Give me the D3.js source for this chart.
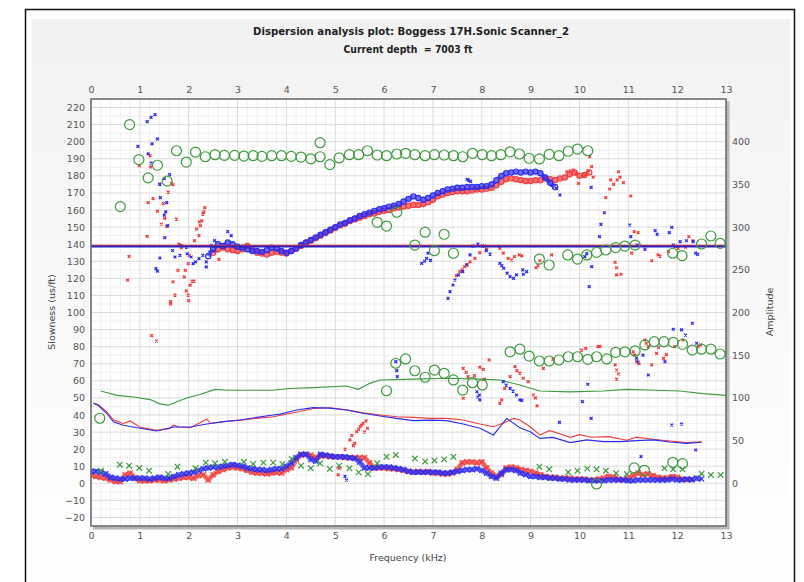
<!DOCTYPE html>
<html>
<head>
<meta charset="utf-8">
<script src="https://cdn.jsdelivr.net/npm/d3@7"></script>
<style>
  html, body { margin: 0; padding: 0; background: #ffffff; }
  svg { display: block; }
  text { font-family: "DejaVu Sans", Verdana, sans-serif; white-space: pre; }
</style>
</head>
<body>
<svg id="chart" width="804" height="582"></svg>
<script>
// ---- Axis ticks ----
const freqTicks = d3.range(0, 14);                  // 0 .. 13 kHz
const slownessTicks = d3.range(-20, 221, 10);       // -20 .. 220 us/ft
const amplitudeTicks = d3.range(0, 401, 50);        // 0 .. 400

// ---- Dispersion: dense dipole bands (freq kHz, slowness us/ft) ----
const blueBand = [[2.4,133],[2.5,137],[2.6,140],[2.7,139],[2.8,141],[2.9,140],[3.0,138.5],[3.1,138],[3.2,137],[3.3,136],[3.4,136],[3.5,135.5],[3.6,136.5],[3.7,138],[3.8,137.5],[3.9,136],[4.0,135],[4.1,136],[4.2,137.5],[4.3,139.5],[4.4,141],[4.5,142.5],[4.6,144],[4.7,145.5],[4.8,147],[4.9,148.5],[5.0,150],[5.1,151.5],[5.2,152.5],[5.3,154],[5.4,155],[5.5,156.5],[5.6,157.5],[5.7,158.5],[5.8,159.5],[5.9,160.5],[6.0,161],[6.1,162],[6.2,162.5],[6.3,163.5],[6.4,165],[6.5,166.5],[6.6,168],[6.7,167],[6.8,166],[6.9,167],[7.0,168.5],[7.1,170],[7.2,171],[7.3,172],[7.4,172.5],[7.5,173],[7.6,173],[7.7,173.5],[7.8,173.5],[7.9,173.5],[8.0,174],[8.1,174],[8.2,175],[8.3,177.5],[8.4,180],[8.5,181.5],[8.6,182],[8.7,182.5],[8.8,182],[8.9,182.5],[9.0,182],[9.1,182.5],[9.2,181.5],[9.3,179],[9.4,176],[9.5,173.5]];
const redBand = [[2.5,135],[2.6,137],[2.7,138],[2.8,137],[2.9,136.5],[3.0,136],[3.1,137],[3.2,139],[3.3,137],[3.4,135],[3.5,134.5],[3.6,134],[3.7,135],[3.8,135.5],[3.9,135],[4.0,134.5],[4.1,136],[4.2,137.5],[4.3,139],[4.4,140.5],[4.5,142],[4.6,143.5],[4.7,145],[4.8,146.5],[4.9,148],[5.0,149.5],[5.1,151],[5.2,152],[5.3,153.5],[5.4,154.5],[5.5,155.5],[5.6,156.5],[5.7,157.5],[5.8,158],[5.9,159],[6.0,159.5],[6.1,160],[6.2,161],[6.3,161.5],[6.4,162],[6.5,162.5],[6.6,163],[6.7,163],[6.8,163.5],[6.9,164.5],[7.0,166],[7.1,168],[7.2,169],[7.3,170],[7.4,170.5],[7.5,171],[7.6,171],[7.7,171],[7.8,171.5],[7.9,172],[8.0,172],[8.1,172.5],[8.2,173],[8.3,174.5],[8.4,176.5],[8.5,178],[8.6,178.5],[8.7,178],[8.8,177.5],[8.9,177],[9.0,177],[9.1,177.5],[9.2,177.5],[9.3,178.5],[9.4,178],[9.5,177.5],[9.6,178.5],[9.7,179],[9.8,181],[9.9,182],[10.0,180],[10.1,180.5],[10.2,182]];

// ---- Dispersion: scattered dipole picks ----
const redScatter = [[1.21,191.8],[0.99,186],[1.22,185.2],[1.40,175.2],[1.65,175.4],[1.68,174.8],[1.58,170.5],[1.27,166.7],[1.17,164.3],[1.48,163.8],[1.36,159.3],[1.51,155.1],[1.75,154.7],[1.44,151.8],[1.55,150.4],[1.15,144.6],[0.78,132.8],[0.75,118.9],[1.68,118],[1.78,124.7],[1.72,110.2],[1.63,106.4],[1.91,120.9],[1.93,124.7],[1.99,128.6],[1.95,112.6],[2.03,116],[2.07,118.4],[2.11,118.4],[1.99,110.2],[2.01,133.4],[2.12,142.1],[2.21,145],[2.24,150.8],[2.27,153.7],[2.29,157.6],[2.31,158.9],[2.33,161.4],[2.16,148.9],[2.22,153.1],[2.62,131.1],[1.24,86.4],[1.34,83.3],[1.63,105],[2.0,107],[1.80,140],[1.85,138],
  [10.21,191.2],[10.25,185.4],[10.28,179.2],[10.18,183],[10.11,180.5],[9.98,175.6],[9.29,179.2],[9.74,182.4],[9.81,183],[9.87,183.4],[9.94,181.5],[10.54,167.2],[10.62,172.3],[10.64,177.6],[10.77,177.6],[10.8,182.4],[10.83,179.2],[10.9,176],[11.05,168.2],[10.70,175],
  [7.48,121.6],[7.55,123.9],[7.60,125],[7.65,126.8],[7.70,128],[7.76,129.7],[7.86,131.7],[7.96,135],[8.06,138.9],[8.10,137],[8.37,137.6],[8.44,134.7],[8.54,131.7],[8.61,130.7],[8.67,132.7],[8.77,133.7],[8.82,133.1],[9.11,126.2],[9.15,127.5],[9.19,130.3],[9.43,133.7],
  [10.73,129.4],[10.76,126.2],[10.76,122],[10.85,122.4],[11.07,134.7],[11.12,147.3],[11.2,146.8],[11.48,130.3],[11.61,133.7],[11.65,133],[11.82,135.6],[12.02,137.6],[12.17,138.2],[12.24,144.4],[12.32,142],
  [7.62,67.3],[7.68,65],[7.72,62.4],[7.62,49.8],[7.85,63],[7.96,68],[8.03,66.7],[8.05,61],[8.15,72.2],[8.41,48.8],[8.37,46.8],[8.47,55.6],[8.58,62.4],[8.68,68.3],[8.72,66],[8.78,64.5],[8.85,61.5],[8.95,59.5],[9.06,51.7],[9.1,50],[9.13,45.3],[9.26,67.3],[9.46,72.6],[10.04,78],[10.13,79],[10.38,80],[10.42,80.2],[10.73,69.3],[10.76,66.3],[10.8,64],[10.76,61],[11.1,77],[11.13,75],[11.17,71.2],[11.22,70],[11.34,83.9],[11.37,82],[11.41,80],[11.48,69.3],[11.58,76.1],[11.62,79.5],[11.72,73.2],[11.78,75.3],[11.95,80],[12.12,83.9],[12.43,80],[12.48,81],
  [5.3,25.4],[5.34,28],[5.4,23.4],[5.44,30.2],[5.48,31.5],[5.51,33.1],[5.54,34],[5.57,35.1],[5.63,36.5],[5.66,32.2],[5.6,30],[5.37,22],[5.06,4.9],[5.08,8.8],[5.2,20]];
const blueScatter = [[1.31,215.9],[1.23,214.2],[1.15,211.7],[1.36,201.6],[0.96,197.2],[1.25,198.7],[1.17,192.9],[1.23,187.5],[1.61,180.8],[1.50,178.3],[1.41,175],[1.42,167.2],[1.55,164.3],[1.50,157],[1.53,158.9],[1.57,150.8],[1.51,143.9],[1.41,131.9],[1.33,125.7],[1.36,124.2],[1.67,136.3],[1.72,132.5],[1.82,133.4],[1.85,139.2],[1.95,138.3],[1.97,134.4],[2.05,132.5],[2.09,128.6],[2.14,129.6],[2.21,131.5],[2.29,133.4],[2.36,129.6],[2.36,126.7],[2.43,135.4],[2.46,139.2],[2.53,142.1],[2.80,147.3],[2.87,145],[7.7,178],[7.73,177.5],[7.77,176.8],
  [6.77,128.8],[6.87,131.7],[6.90,134.7],[6.83,130],[6.95,130.5],[7.31,108.3],[7.35,112.2],[7.41,116.1],[7.45,119],[7.52,122],[7.61,123.9],[7.69,127.8],[7.76,133.7],[7.82,138.9],[7.92,140.1],[8.01,139],[8.09,136.2],[8.17,134.2],[8.37,128.8],[8.41,127.5],[8.45,125.9],[8.52,123],[8.58,121],[8.65,120],[8.71,122],[8.84,124.9],[8.85,122.4],[8.92,123.9],
  [9.29,178.6],[9.36,176.6],[9.43,174.6],[9.53,172.7],[9.6,168.8],[10.24,173.3],[10.51,158.4],[10.44,151.6],[10.41,144.4],[10.25,126.8],[10.2,115.1],[10.11,132.7],[10.15,134.5],
  [11.03,151.2],[11.05,144.4],[11.18,139.5],[11.34,137],[11.55,147.9],[11.59,145.8],[11.84,146.8],[11.89,149.9],[11.92,139.5],[12.06,141.5],[12.19,142],[12.33,141.5],[12.38,134.7],[12.42,134],[11.97,138.8],
  [6.24,71.2],[6.27,62.4],[6.26,66],[7.9,53.6],[7.95,51.7],[7.96,48.8],[7.92,50.5],[8.44,59.5],[8.5,57.5],[8.58,55.6],[8.64,54],[8.71,51.7],[8.78,48.8],[8.82,48.5],[9.59,35.7],[10.06,47.8],[10.17,58],[10.24,38],[11.17,73.2],[11.2,71],[11.41,63.4],[11.30,75],[11.75,71.2],[11.89,34.1],[12.09,34.7],[12.09,89.8],[12.17,86.8],[12.31,93.7],[12.40,82],[11.92,90.2],[12.38,19.5],[11.26,15.6],[5.23,1.9],[5.2,4]];

// ---- Model mode picks (open circles) ----
const greenModes = [[0.60,162],[0.79,210],[0.98,189.5],[1.17,178.8],[1.36,186.2],[1.56,176.9],[1.75,194.7],[1.95,188.1],[2.14,193.9],[2.34,191.2],[2.54,192.4],[2.73,192],[2.94,192],[3.13,191.6],[3.32,191.8],[3.50,191.4],[3.70,191.8],[3.90,191.8],[4.10,191.4],[4.30,191],[4.50,190],[4.69,191.2],[4.69,199.4],[4.89,186.6],[5.08,190.5],[5.29,192.4],[5.48,192.4],[5.66,194.7],[5.86,192.2],[6.05,191.8],[6.26,192.8],[6.44,193.2],[6.63,192.4],[6.84,191.8],[7.03,192.4],[7.23,192.2],[7.42,191.8],[7.61,191.2],[7.81,193.2],[8.01,192.4],[8.20,191.8],[8.39,192.4],[8.58,194.1],[8.77,192.8],[8.97,190.3],[9.18,189.9],[9.38,192.6],[9.58,191.8],[9.77,194.4],[9.96,195.7],[10.17,194.7],
  [5.86,152.8],[6.05,150.6],[6.26,158.7],[6.63,139.5],[6.84,147],[7.03,136.2],[7.23,145.8],[7.42,134.7],[9.18,131.3],[9.38,127.8],[9.76,133.7],[9.96,131.3],[10.15,133.7],[10.35,135.2],[10.54,136.6],[10.74,138],[10.93,138.9],[11.14,139.5],[11.91,134.7],[12.10,133.3],[12.50,140.1],[12.69,144.8],[12.88,140.5],
  [6.05,54.2],[6.24,70.3],[6.44,72.8],[6.63,65.9],[6.84,62.1],[7.03,66.3],[7.23,64.4],[7.42,60.5],[7.61,54.6],[7.81,58.9],[8.01,57.6],[8.58,77],[8.78,78.5],[8.97,74.5],[9.18,71.6],[9.38,71.6],[9.58,72.2],[9.77,74.1],[9.96,74.1],[10.17,72.6],[10.35,74.1],[10.56,72.8],[10.74,76.7],[10.93,77],[11.14,77.5],[11.34,81],[11.53,82.9],[11.73,82.9],[11.92,82.5],[12.11,81.4],[12.31,78],[12.50,78.5],[12.69,78.5],[12.88,75.7],
  [0.18,38.1],[10.35,-0.4],[11.12,9],[11.33,7.6],[11.91,12.3],[12.11,11.5]];

// ---- Low-slowness picks (crosses) ----
const greenCross = [[0.20,7.4],[0.59,10.9],[0.78,10.3],[0.99,9],[1.19,7.4],[1.58,5.4],[1.77,9.7],[2.14,8.8],[2.35,12.1],[2.54,11.7],[2.74,12.6],[3.13,12.6],[3.32,11.3],[3.53,12.1],[3.73,12.1],[3.92,11.3],[4.11,14.1],[4.30,10.3],[4.50,8.8],[4.69,11.7],[4.89,8.4],[5.08,10.3],[5.29,8.8],[5.48,6.4],[5.67,5.4],[5.86,11.7],[6.05,15.6],[6.24,16.6],[6.63,14.5],[6.84,12.8],[7.03,13.4],[7.23,14],[7.42,15.6],[9.18,9.7],[9.38,8.2],[9.77,6.5],[9.96,7.4],[10.16,8.6],[10.35,8.2],[10.54,7.4],[10.75,5.9],[10.97,5.4],[11.74,8.8],[11.92,8.2],[12.11,8.2],[12.50,5.6],[12.69,4.9],[12.89,4.9]];
const blueLow = [[0.0,7],[0.1,7],[0.2,6.5],[0.3,5.5],[0.4,3.5],[0.5,3],[0.6,2.5],[0.7,2.5],[0.8,3],[0.9,3],[1.0,3],[1.1,3],[1.2,2.5],[1.3,3],[1.4,3.5],[1.5,3],[1.6,3],[1.7,4],[1.8,5],[1.9,5.5],[2.0,6],[2.1,6.5],[2.2,7.5],[2.3,8.5],[2.4,9],[2.5,9.5],[2.6,9.5],[2.7,10],[2.8,10.5],[2.9,11],[3.0,10.5],[3.1,10],[3.2,9],[3.3,8.5],[3.4,8],[3.5,8],[3.6,7.5],[3.7,8],[3.8,8.5],[3.9,8.5],[4.0,10],[4.1,12],[4.2,15],[4.3,17],[4.4,17],[4.5,14],[4.6,13],[4.7,17],[4.8,16.5],[4.9,16],[5.0,15.5],[5.1,15.5],[5.2,15.5],[5.3,15],[5.4,14.5],[5.5,12.5],[5.6,9],[5.7,9],[5.8,9],[5.9,9.5],[6.0,9.5],[6.1,9.5],[6.2,9],[6.3,8.5],[6.4,8],[6.5,7],[6.6,6.5],[6.7,6.5],[6.8,6.5],[6.9,6.5],[7.0,6.5],[7.1,6.5],[7.2,6],[7.3,6],[7.4,6.5],[7.5,7],[7.6,7.5],[7.7,8],[7.8,8],[7.9,8.5],[8.0,7.5],[8.1,6],[8.2,4],[8.3,3],[8.4,6],[8.5,8],[8.6,8],[8.7,7.5],[8.8,6],[8.9,5],[9.0,4],[9.1,4],[9.2,3.5],[9.3,3.5],[9.4,3],[9.5,3],[9.6,2.5],[9.7,2.5],[9.8,2],[9.9,2],[10.0,2],[10.1,2],[10.2,1.5],[10.3,1.5],[10.4,1.5],[10.5,1.5],[10.6,2],[10.7,2],[10.8,2],[10.9,2],[11.0,1.5],[11.1,1.5],[11.2,2],[11.3,2],[11.4,2],[11.5,2],[11.6,2],[11.7,2],[11.8,2],[11.9,2.5],[12.0,2],[12.1,2],[12.2,2.5],[12.3,2],[12.4,3],[12.5,2.5]];
const redLow = [[0.0,5],[0.1,4],[0.2,3.5],[0.3,3],[0.4,2],[0.5,1],[0.6,1],[0.7,5],[0.8,6],[0.9,3],[1.0,1.5],[1.1,1.5],[1.2,1.5],[1.3,2],[1.4,2],[1.5,1.5],[1.6,2],[1.7,2.5],[1.8,3],[1.9,3.5],[2.0,3.5],[2.1,3],[2.2,4.5],[2.3,5],[2.4,2],[2.5,5],[2.6,7],[2.7,8],[2.8,9],[2.9,9.5],[3.0,9],[3.1,8.5],[3.2,7.5],[3.3,6.5],[3.4,6],[3.5,6],[3.6,5.5],[3.7,6],[3.8,6.5],[3.9,6],[4.0,8],[4.1,9],[4.2,14],[4.3,16.5],[4.4,17],[4.5,16.5],[4.6,15],[4.7,16],[4.8,16],[4.9,15.5],[5.0,15.5],[5.1,15.5],[5.2,15],[5.3,15],[5.4,15],[5.5,15],[5.6,15],[5.7,12],[5.8,9],[5.9,9],[6.0,9],[6.1,8.5],[6.2,8.5],[6.3,8],[6.4,7.5],[6.5,7],[6.6,6.5],[6.7,7],[6.8,6.5],[6.9,7],[7.0,6],[7.1,6],[7.2,5.5],[7.3,5.5],[7.4,6],[7.5,8],[7.6,12],[7.7,12.5],[7.8,12.5],[7.9,12],[8.0,12.5],[8.1,9],[8.2,6],[8.3,4],[8.4,5],[8.5,9],[8.6,9.5],[8.7,9],[8.8,8],[8.9,7.5],[9.0,7],[9.1,6],[9.2,5],[9.3,4],[9.4,3.5],[9.5,3.5],[9.6,3],[9.7,3],[9.8,3],[9.9,2.5],[10.0,2.5],[10.1,2.5],[10.2,2],[10.3,2],[10.4,2.5],[10.5,3],[10.6,4],[10.7,3.5],[10.8,2.5],[10.9,2],[11.0,3],[11.1,4.5],[11.2,6],[11.3,5],[11.4,5.5],[11.5,4.5],[11.6,3.5],[11.7,3],[11.8,3],[11.9,4],[12.0,3.5],[12.1,2.5],[12.2,2],[12.3,2.5]];

// ---- Reference slowness lines ----
const redFlat = 139.3;
const blueFlat = 138.6;

// ---- Spectral amplitude curves (freq kHz, amplitude) ----
const greenAmp = [[0.20,108],[0.53,103],[0.87,101],[1.21,98],[1.41,93],[1.58,91.5],[1.82,97],[2.03,101],[2.23,104],[2.54,110],[2.78,109],[3.39,109],[3.73,109],[4.07,111],[4.55,112],[5.23,114],[5.47,110],[5.71,117],[5.92,121],[6.6,122],[7.28,123],[7.96,122],[8.37,121],[8.78,115],[9.19,108],[9.81,107],[10.49,108],[10.97,110],[11.51,109],[12.06,108],[12.53,105],[13.0,103]];
const blueAmp = [[0.05,93.6],[0.15,91],[0.32,82],[0.46,72],[0.66,68],[1.0,64.4],[1.34,61.2],[1.69,66],[2.03,66],[2.37,69.4],[2.71,72.2],[3.05,74.2],[3.39,77.2],[3.73,80],[3.87,81],[4.21,85.8],[4.55,88.6],[4.89,88],[5.23,85.8],[5.57,82],[5.92,78.8],[6.26,76],[6.6,73.4],[6.94,74],[7.28,73.4],[7.62,69.4],[7.96,64.4],[8.24,56.6],[8.51,76],[8.78,65],[8.99,60.4],[9.19,52.6],[9.46,53.8],[9.81,47.6],[10.15,50.8],[10.49,48.8],[10.83,48.8],[11.17,50],[11.51,50.8],[11.85,48.4],[12.19,46.8],[12.5,48]];
const redAmp = [[0.05,94],[0.15,92],[0.32,84],[0.46,74],[0.66,70],[0.8,73],[1.0,66],[1.34,62],[1.6,64],[1.69,68],[1.8,66],[2.03,65],[2.37,75],[2.45,70],[2.71,72],[3.05,74],[3.39,76],[3.73,78],[4.28,84],[4.55,87.5],[4.89,88.5],[5.23,86],[5.57,82.5],[5.92,80],[6.26,78],[6.6,77.2],[6.94,76],[7.28,76],[7.62,74.2],[7.96,69.4],[8.24,66.2],[8.51,72],[8.65,76],[8.78,74.2],[8.99,66.2],[9.19,56.6],[9.39,61.6],[9.6,58],[9.81,53.8],[10.0,57],[10.25,54],[10.6,54.6],[10.97,50.5],[11.17,54],[11.51,51.5],[11.85,49.5],[12.19,47.6],[12.5,48.5]];

// ---- Layout & colours ----
const plot = { left: 91, right: 726, top: 99, bottom: 526 };
const colRed = "#f03c3c", colBlue = "#2d2df0", colGreen = "#3f9a3f";

const svg = d3.select("#chart");

// Page frame and panel
const defs = svg.append("defs");
const grad = defs.append("linearGradient").attr("id", "panelFill").attr("x1", 0).attr("y1", 0).attr("x2", 0).attr("y2", 1);
grad.append("stop").attr("offset", "0%").attr("stop-color", "#f2f2f2");
grad.append("stop").attr("offset", "100%").attr("stop-color", "#ffffff");
svg.append("rect").attr("x", 32).attr("y", 19).attr("width", 758).attr("height", 563).attr("fill", "url(#panelFill)");
svg.append("path").attr("d", "M25.5,600V9.5H794.5V600").attr("fill", "none").attr("stroke", "#111").attr("stroke-width", 1.5);

// Titles
svg.append("text").attr("x", 411).attr("y", 34.5).attr("text-anchor", "middle")
  .attr("font-size", 10).attr("font-weight", "bold").attr("fill", "#222")
  .attr("textLength", 316).attr("lengthAdjust", "spacingAndGlyphs")
  .text("Dispersion analysis plot: Boggess 17H.Sonic Scanner_2");
svg.append("text").attr("x", 408).attr("y", 52.5).attr("text-anchor", "middle")
  .attr("font-size", 10).attr("font-weight", "bold").attr("fill", "#222")
  .attr("textLength", 129).attr("lengthAdjust", "spacingAndGlyphs")
  .text("Current depth\u00a0 = 7003 ft");

// Scales
const x = d3.scaleLinear().domain([0, 13]).range([plot.left, plot.right]);
const y = d3.scaleLinear().domain([-25, 225]).range([plot.bottom, plot.top]);
const yAmp = d3.scaleLinear().domain([-50, 450]).range([plot.bottom, plot.top]);

// Plot background with drop shadow
svg.append("rect").attr("x", plot.left + 2).attr("y", plot.top + 2)
  .attr("width", plot.right - plot.left + 1.5).attr("height", plot.bottom - plot.top + 1.5).attr("fill", "#b8b8b8");
svg.append("rect").attr("x", plot.left).attr("y", plot.top)
  .attr("width", plot.right - plot.left).attr("height", plot.bottom - plot.top).attr("fill", "#ffffff");

// Grid: minor then major
const grid = svg.append("g");
const minorX = d3.range(0, 13.001, 0.2).filter(v => Math.abs(v - Math.round(v)) > 1e-6);
const minorY = d3.range(-25, 225.001, 5).filter(v => Math.abs(v % 10) > 1e-6);
grid.selectAll(".mx").data(minorX).join("line")
  .attr("x1", d => x(d)).attr("x2", d => x(d)).attr("y1", plot.top).attr("y2", plot.bottom)
  .attr("stroke", "#efefef").attr("stroke-width", 1);
grid.selectAll(".my").data(minorY).join("line")
  .attr("x1", plot.left).attr("x2", plot.right).attr("y1", d => y(d)).attr("y2", d => y(d))
  .attr("stroke", "#efefef").attr("stroke-width", 1);
grid.selectAll(".gx").data(freqTicks).join("line")
  .attr("x1", d => x(d)).attr("x2", d => x(d)).attr("y1", plot.top).attr("y2", plot.bottom)
  .attr("stroke", "#dcdcdc").attr("stroke-width", 1);
grid.selectAll(".gy").data(slownessTicks).join("line")
  .attr("x1", plot.left).attr("x2", plot.right).attr("y1", d => y(d)).attr("y2", d => y(d))
  .attr("stroke", "#dcdcdc").attr("stroke-width", 1);

// Axes (labels only)
function styleAxis(g) {
  g.select(".domain").remove();
  g.selectAll(".tick line").remove();
  g.selectAll("text").attr("fill", "#555").attr("font-size", 9.5).attr("font-family", "DejaVu Sans, Verdana, sans-serif");
}
svg.append("g").attr("transform", `translate(0,${plot.top})`)
  .call(d3.axisTop(x).tickValues(freqTicks).tickFormat(d3.format("d")).tickSize(0).tickPadding(6)).call(styleAxis);
svg.append("g").attr("transform", `translate(0,${plot.bottom})`)
  .call(d3.axisBottom(x).tickValues(freqTicks).tickFormat(d3.format("d")).tickSize(0).tickPadding(6)).call(styleAxis);
svg.append("g").attr("transform", `translate(${plot.left},0)`)
  .call(d3.axisLeft(y).tickValues(slownessTicks).tickFormat(d3.format("d")).tickSize(0).tickPadding(6)).call(styleAxis);
svg.append("g").attr("transform", `translate(${plot.right},0)`)
  .call(d3.axisRight(yAmp).tickValues(amplitudeTicks).tickFormat(d3.format("d")).tickSize(0).tickPadding(6)).call(styleAxis);

// Axis titles
svg.append("text").attr("transform", "translate(55,312) rotate(-90)").attr("text-anchor", "middle")
  .attr("font-size", 9.5).attr("fill", "#444").text("Slowness (us/ft)");
svg.append("text").attr("transform", "translate(773,312) rotate(-90)").attr("text-anchor", "middle")
  .attr("font-size", 9.5).attr("fill", "#444").text("Amplitude");
svg.append("text").attr("x", 408).attr("y", 561).attr("text-anchor", "middle")
  .attr("font-size", 9.5).attr("fill", "#444").text("Frequency (kHz)");

// Data layer, clipped to the plot area
defs.append("clipPath").attr("id", "plotClip").append("rect")
  .attr("x", plot.left).attr("y", plot.top).attr("width", plot.right - plot.left).attr("height", plot.bottom - plot.top);
const layer = svg.append("g").attr("clip-path", "url(#plotClip)");

const slowLine = d3.line().x(d => x(d[0])).y(d => y(d[1]));
const ampLine = d3.line().x(d => x(d[0])).y(d => yAmp(d[1]));
const xMark = s => `M${-s},${-s}L${s},${s}M${-s},${s}L${s},${-s}`;

// Amplitude curves
layer.append("path").datum(greenAmp).attr("d", ampLine).attr("fill", "none").attr("stroke", colGreen).attr("stroke-width", 1.1);
layer.append("path").datum(redAmp).attr("d", ampLine).attr("fill", "none").attr("stroke", colRed).attr("stroke-width", 1.1);
layer.append("path").datum(blueAmp).attr("d", ampLine).attr("fill", "none").attr("stroke", colBlue).attr("stroke-width", 1.1);

// Low-slowness dense bands
function lowBand(data, color) {
  layer.append("path").datum(data).attr("d", slowLine).attr("fill", "none")
    .attr("stroke", color).attr("stroke-width", 5).attr("stroke-linejoin", "round").attr("opacity", 0.7);
  layer.append("g").selectAll("path").data(data).join("path")
    .attr("transform", d => `translate(${x(d[0])},${y(d[1])})`).attr("d", xMark(2.7))
    .attr("stroke", color).attr("stroke-width", 1.1).attr("fill", "none");
}
lowBand(redLow, colRed);
lowBand(blueLow, colBlue);

layer.append("g").selectAll("path").data(greenCross).join("path")
  .attr("transform", d => `translate(${x(d[0])},${y(d[1])})`).attr("d", xMark(2.8))
  .attr("stroke", colGreen).attr("stroke-width", 1.2).attr("fill", "none");

// Scattered picks
function scatter(data, color) {
  layer.append("g").selectAll("path").data(data).join("path")
    .attr("transform", d => `translate(${x(d[0])},${y(d[1])})`).attr("d", xMark(1.4))
    .attr("stroke", color).attr("stroke-width", 1.3).attr("fill", "none");
}
scatter(redScatter, colRed);
scatter(blueScatter, colBlue);

// Dense dispersion bands
function dispBand(data, color) {
  layer.append("path").datum(data).attr("d", slowLine).attr("fill", "none")
    .attr("stroke", color).attr("stroke-width", 4.2).attr("stroke-linejoin", "round").attr("opacity", 0.7);
  layer.append("g").selectAll("circle").data(data).join("circle")
    .attr("cx", d => x(d[0])).attr("cy", d => y(d[1])).attr("r", 2.6)
    .attr("fill", "none").attr("stroke", color).attr("stroke-width", 1.2);
}
dispBand(redBand, colRed);
dispBand(blueBand, colBlue);

// Reference slowness lines
layer.append("line").attr("x1", plot.left).attr("x2", plot.right).attr("y1", y(redFlat)).attr("y2", y(redFlat))
  .attr("stroke", colRed).attr("stroke-width", 1.5);
layer.append("line").attr("x1", plot.left).attr("x2", plot.right).attr("y1", y(blueFlat)).attr("y2", y(blueFlat))
  .attr("stroke", "#2a1fc0").attr("stroke-width", 2);

// Mode picks
layer.append("g").selectAll("circle").data(greenModes).join("circle")
  .attr("cx", d => x(d[0])).attr("cy", d => y(d[1])).attr("r", 5)
  .attr("fill", "none").attr("stroke", colGreen).attr("stroke-width", 1.2);

// Plot frame
svg.append("rect").attr("x", plot.left).attr("y", plot.top)
  .attr("width", plot.right - plot.left).attr("height", plot.bottom - plot.top)
  .attr("fill", "none").attr("stroke", "#666").attr("stroke-width", 1.5);
</script>
</body>
</html>
